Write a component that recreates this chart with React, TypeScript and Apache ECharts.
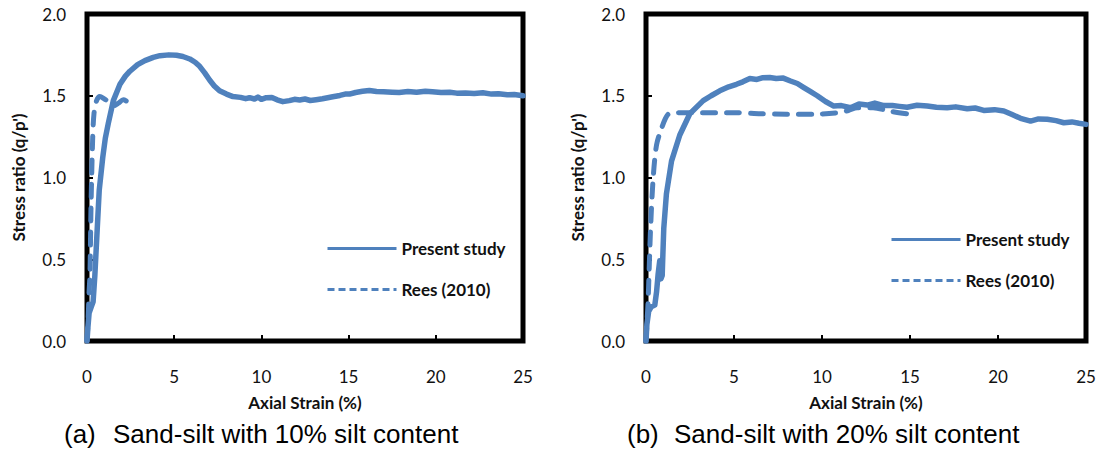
import React, { useEffect, useRef } from "react";
import * as echarts from "echarts";

// ---------- Data ----------
const xTicks = [0, 5, 10, 15, 20, 25];
const yTicks = [0.0, 0.5, 1.0, 1.5, 2.0];

// (a) Sand-silt with 10% silt content
const strainA_present = [
  0, 0.05, 0.12, 0.25, 0.35, 0.45, 0.55, 0.7, 0.9, 1.05, 1.22, 1.51, 1.89, 2.2, 2.46, 2.9, 3.32, 3.8,
  4.18, 4.7, 5.13, 5.5, 5.89, 6.2, 6.46, 6.75, 7.04, 7.3, 7.6, 8.0, 8.37, 8.8, 9.1, 9.32, 9.6, 9.8,
  10.0, 10.28, 10.6, 10.9, 11.23, 11.6, 11.9, 12.19, 12.5, 12.8, 13.14, 13.5, 13.8, 14.09, 14.5,
  14.8, 15.05, 15.4, 15.8, 16.19, 16.6, 17.0, 17.5, 17.9, 18.4, 18.9, 19.4, 19.8, 20.3, 20.8, 21.2,
  21.7, 22.2, 22.7, 23.2, 23.6, 24.1, 24.5, 25.0,
];
const ratioA_present = [
  0, 0.08, 0.17, 0.21, 0.24, 0.4, 0.61, 0.92, 1.12, 1.24, 1.33, 1.47, 1.57, 1.62, 1.65, 1.69, 1.715,
  1.735, 1.745, 1.75, 1.748, 1.74, 1.725, 1.705, 1.68, 1.64, 1.595, 1.56, 1.53, 1.51, 1.495, 1.49,
  1.482, 1.488, 1.48, 1.492, 1.478, 1.488, 1.49, 1.475, 1.464, 1.47, 1.478, 1.474, 1.48, 1.471, 1.476,
  1.482, 1.488, 1.494, 1.502, 1.51, 1.51, 1.52, 1.527, 1.532, 1.526, 1.525, 1.522, 1.52, 1.526, 1.522,
  1.528, 1.525, 1.52, 1.522, 1.516, 1.517, 1.514, 1.518, 1.51, 1.512, 1.506, 1.508, 1.5,
];
const strainA_rees = [0, 0.06, 0.12, 0.17, 0.23, 0.32, 0.4, 0.55, 0.74, 1.0, 1.32, 1.55, 1.8, 2.08, 2.3, 2.56];
const ratioA_rees = [0, 0.12, 0.3, 0.41, 0.82, 1.22, 1.39, 1.47, 1.495, 1.48, 1.46, 1.44, 1.455, 1.475, 1.465, 1.445];

// (b) Sand-silt with 20% silt content
const strainB_present = [
  0, 0.05, 0.15, 0.3, 0.5, 0.6, 0.69, 0.78, 0.85, 0.92, 0.95, 1.01, 1.16, 1.45, 1.92, 2.49, 3.25, 3.7,
  4.19, 4.7, 5.14, 5.5, 5.9, 6.3, 6.6, 7.03, 7.4, 7.8, 8.21, 8.6, 8.97, 9.35, 9.73, 10.2, 10.67, 11.1,
  11.62, 12.1, 12.57, 13.0, 13.51, 14.0, 14.4, 14.84, 15.4, 15.98, 16.5, 17.11, 17.6, 18.25, 18.7,
  19.19, 19.8, 20.33, 20.8, 21.28, 21.85, 22.3, 22.8, 23.3, 23.74, 24.2, 24.6, 25.0,
];
const ratioB_present = [
  0, 0.1, 0.18, 0.21, 0.22, 0.3, 0.41, 0.49, 0.38, 0.4, 0.5, 0.69, 0.9, 1.1, 1.26, 1.39, 1.47, 1.5,
  1.53, 1.555, 1.57, 1.585, 1.605, 1.6, 1.61, 1.612, 1.605, 1.608, 1.59, 1.575, 1.55, 1.525, 1.5,
  1.465, 1.437, 1.44, 1.427, 1.45, 1.443, 1.455, 1.44, 1.44, 1.435, 1.43, 1.442, 1.437, 1.43, 1.427,
  1.432, 1.42, 1.425, 1.41, 1.415, 1.407, 1.385, 1.362, 1.345, 1.358, 1.356, 1.348, 1.335, 1.34,
  1.332, 1.325,
];
const strainB_rees = [
  0, 0.06, 0.12, 0.26, 0.41, 0.6, 0.88, 1.1, 1.26, 1.5, 3.25, 5.14, 6.5, 7.98, 9.5, 10.82, 11.5, 12.0,
  12.9, 13.9, 15.03,
];
const ratioB_rees = [
  0, 0.12, 0.245, 0.69, 1.0, 1.2, 1.3, 1.36, 1.387, 1.395, 1.396, 1.396, 1.39, 1.387, 1.387, 1.395,
  1.41, 1.427, 1.427, 1.405, 1.387,
];

const seriesNames = ["Present study", "Rees (2010)"];
const captionLabels = ["(a)", "(b)"];
const captionTexts = ["Sand-silt with 10% silt content", "Sand-silt with 20% silt content"];
const xAxisName = "Axial Strain (%)";
const yAxisName = "Stress ratio (q/p')";

// ---------- Styling ----------
const BLUE = "#4F81BD";
const LABEL_FONT = "Lato";

const pairs = (xs: number[], ys: number[]) => xs.map((x, i) => [x, ys[i]]);

function makeX(gridIndex: number) {
  return {
    type: "value",
    gridIndex,
    min: xTicks[0],
    max: xTicks[xTicks.length - 1],
    interval: xTicks[1] - xTicks[0],
    axisLine: { show: false },
    axisTick: { show: true, inside: true, length: 6, lineStyle: { color: "#000", width: 2 } },
    axisLabel: { margin: 27, fontFamily: LABEL_FONT, fontSize: 17, color: "#111" },
    splitLine: { show: false },
    name: xAxisName,
    nameLocation: "middle",
    nameGap: 53,
    nameTextStyle: { fontFamily: LABEL_FONT, fontWeight: "bold", fontSize: 17, color: "#111" },
  };
}

function makeY(gridIndex: number) {
  return {
    type: "value",
    gridIndex,
    min: yTicks[0],
    max: yTicks[yTicks.length - 1],
    interval: yTicks[1] - yTicks[0],
    axisLine: { show: false },
    axisTick: { show: true, inside: true, length: 6, lineStyle: { color: "#000", width: 2 } },
    axisLabel: {
      margin: 21,
      fontFamily: LABEL_FONT,
      fontSize: 17,
      color: "#111",
      formatter: (v: number) => v.toFixed(1),
    },
    splitLine: { show: false },
    name: yAxisName,
    nameLocation: "middle",
    nameGap: 60,
    nameTextStyle: { fontFamily: LABEL_FONT, fontWeight: "bold", fontSize: 17, color: "#111" },
  };
}

function makeLegend(left: number, top: number) {
  return {
    orient: "vertical",
    left,
    top,
    padding: 0,
    itemWidth: 69,
    itemHeight: 16,
    itemGap: 24,
    selectedMode: false,
    itemStyle: { opacity: 0 },
    data: [
      { name: seriesNames[0], itemStyle: { opacity: 0 }, lineStyle: { width: 3, cap: "butt" } },
      { name: seriesNames[1], itemStyle: { opacity: 0 }, lineStyle: { width: 3, type: [7, 4], cap: "butt" } },
    ],
    textStyle: { fontFamily: LABEL_FONT, fontWeight: "bold", fontSize: 17, color: "#111" },
  };
}

function solidSeries(idx: number, xs: number[], ys: number[]) {
  return {
    type: "line",
    name: seriesNames[0],
    xAxisIndex: idx,
    yAxisIndex: idx,
    data: pairs(xs, ys),
    symbol: "none",
    lineStyle: { color: BLUE, width: 5.5, cap: "round", join: "round" },
    itemStyle: { color: BLUE },
    z: 3,
  };
}

function dashedSeries(idx: number, xs: number[], ys: number[]) {
  return {
    type: "line",
    name: seriesNames[1],
    xAxisIndex: idx,
    yAxisIndex: idx,
    data: pairs(xs, ys),
    symbol: "none",
    smooth: 0.3,
    lineStyle: { color: BLUE, width: 5, type: [13, 11], cap: "round", join: "round" },
    itemStyle: { color: BLUE },
    z: 4,
  };
}

function caption(labelX: number, textX: number, y: number, i: number) {
  const common = {
    fontFamily: "Liberation Sans",
    fontSize: 26,
    fill: "#000",
    verticalAlign: "middle",
    align: "left",
  };
  return [
    { type: "text", x: labelX, y, style: { ...common, text: captionLabels[i] } },
    { type: "text", x: textX, y, style: { ...common, text: captionTexts[i] } },
  ];
}

export default function App() {
  const ref = useRef<HTMLDivElement | null>(null);

  useEffect(() => {
    if (!ref.current) return;
    const chart = echarts.init(ref.current, undefined, { renderer: "svg" });
    const gridBase = {
      top: 14,
      height: 327,
      show: true,
      borderColor: "#000",
      borderWidth: 5,
      backgroundColor: "transparent",
    };
    chart.setOption({
      animation: false,
      backgroundColor: "#fff",
      grid: [
        { ...gridBase, left: 87, width: 436 },
        { ...gridBase, left: 646, width: 440 },
      ],
      xAxis: [makeX(0), makeX(1)],
      yAxis: [makeY(0), makeY(1)],
      legend: [makeLegend(326, 240), makeLegend(890, 231)],
      series: [
        solidSeries(0, strainA_present, ratioA_present),
        dashedSeries(0, strainA_rees, ratioA_rees),
        solidSeries(1, strainB_present, ratioB_present),
        dashedSeries(1, strainB_rees, ratioB_rees),
      ],
      graphic: [...caption(64, 113, 434, 0), ...caption(627, 674, 434, 1)],
    });
    return () => chart.dispose();
  }, []);

  return (
    <div
      ref={ref}
      style={{ position: "absolute", left: 0, top: 0, width: 1099, height: 451 }}
    />
  );
}
